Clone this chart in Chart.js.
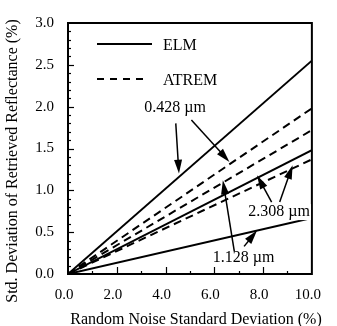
<!DOCTYPE html>
<html><head><meta charset="utf-8">
<script src="https://cdn.jsdelivr.net/npm/chart.js@4"></script>
<style>html,body{margin:0;padding:0;background:#fff;}#wrap{width:337px;height:326px;}</style>
</head><body><div id="wrap"><canvas id="c" width="337" height="326"></canvas></div>
<script>
// ---- data ----
const noiseLevels = [0, 10];               // random noise std. dev. (%)
const elm0428   = [0, 2.55];
const atrem0428 = [0, 1.98];
const atrem1128 = [0, 1.72];
const elm2308   = [0, 1.48];
const atrem2308 = [0, 1.37];
const elm1128   = [0, 0.67];
const xTicks = [0, 2, 4, 6, 8, 10];
const yTicks = [0, 0.5, 1.0, 1.5, 2.0, 2.5, 3.0];
const seriesNames = ["ELM", "ATREM"];
const wavelengthLabels = ["0.428 \u00b5m", "2.308 \u00b5m", "1.128 \u00b5m"];
const yTitle = "Std. Deviation of Retrieved Reflectance (%)";
const xTitle = "Random Noise Standard Deviation (%)";

// annotations (data coordinates)
const labelPos = [[4.39, 1.99], [8.66, 0.74], [7.2, 0.19]];
const arrows = [
  [[4.42, 1.80], [4.55, 1.20]],
  [[5.06, 1.84], [6.62, 1.34]],
  [[8.35, 0.86], [7.75, 1.18]],
  [[8.68, 0.86], [9.21, 1.30]],
  [[6.82, 0.27], [6.35, 1.12]],
  [[7.22, 0.33], [7.75, 0.52]]
];

const FONT = "'Liberation Serif', 'Times New Roman', serif";
const pts = arr => noiseLevels.map((x, i) => ({x: x, y: arr[i]}));
const solid = (d) => ({data: pts(d), borderColor: '#000', borderWidth: 2, pointRadius: 0, fill: false, tension: 0});
const dashed = (d) => ({data: pts(d), borderColor: '#000', borderWidth: 2, borderDash: [8, 5], pointRadius: 0, fill: false, tension: 0});

const decor = {
  id: 'decor',
  afterDatasetsDraw(chart) {
    const ctx = chart.ctx, a = chart.chartArea, xs = chart.scales.x, ys = chart.scales.y;
    ctx.save();
    // frame
    ctx.strokeStyle = '#000'; ctx.lineWidth = 2;
    ctx.strokeRect(a.left, a.top, a.right - a.left, a.bottom - a.top);
    // inward ticks
    ctx.lineWidth = 1.2;
    for (let i = 1; i < 30; i++) {
      const v = i / 10, y = Math.round(ys.getPixelForValue(v)) + 0.5;
      const len = (i % 5 === 0) ? 6 : 3;
      ctx.beginPath(); ctx.moveTo(a.left, y); ctx.lineTo(a.left + len, y); ctx.stroke();
    }
    for (let i = 1; i < 10; i++) {
      const x = Math.round(xs.getPixelForValue(i)) + 0.5;
      const len = (i % 2 === 0) ? 7 : 3;
      ctx.beginPath(); ctx.moveTo(x, a.bottom); ctx.lineTo(x, a.bottom - len); ctx.stroke();
    }
    // legend
    ctx.lineWidth = 2;
    ctx.beginPath(); ctx.moveTo(a.left + 29, a.top + 21); ctx.lineTo(a.left + 84, a.top + 21); ctx.stroke();
    ctx.setLineDash([7, 6]);
    ctx.beginPath(); ctx.moveTo(a.left + 29, a.top + 56); ctx.lineTo(a.left + 80, a.top + 56); ctx.stroke();
    ctx.setLineDash([]);
    ctx.fillStyle = '#000'; ctx.font = '16px ' + FONT; ctx.textBaseline = 'middle'; ctx.textAlign = 'left';
    ctx.fillText(seriesNames[0], a.left + 95, a.top + 23);
    ctx.fillText(seriesNames[1], a.left + 95, a.top + 58);
    // wavelength labels
    ctx.textAlign = 'center';
    wavelengthLabels.forEach((t, i) => {
      const p = labelPos[i];
      ctx.fillStyle = '#fff';
      const w = ctx.measureText(t).width;
      ctx.fillRect(xs.getPixelForValue(p[0]) - w / 2 - 1, ys.getPixelForValue(p[1]) - 8, w + 2, 16);
      ctx.fillStyle = '#000';
      ctx.fillText(t, xs.getPixelForValue(p[0]), ys.getPixelForValue(p[1]));
    });
    // arrows
    arrows.forEach(([s, e]) => {
      const x1 = xs.getPixelForValue(s[0]), y1 = ys.getPixelForValue(s[1]);
      const x2 = xs.getPixelForValue(e[0]), y2 = ys.getPixelForValue(e[1]);
      const ang = Math.atan2(y2 - y1, x2 - x1), L = 14, W = 4;
      ctx.lineWidth = 1.5;
      ctx.beginPath(); ctx.moveTo(x1, y1); ctx.lineTo(x2 - Math.cos(ang) * L * 0.8, y2 - Math.sin(ang) * L * 0.8); ctx.stroke();
      ctx.beginPath();
      ctx.moveTo(x2, y2);
      ctx.lineTo(x2 - Math.cos(ang) * L - Math.sin(ang) * W, y2 - Math.sin(ang) * L + Math.cos(ang) * W);
      ctx.lineTo(x2 - Math.cos(ang) * L + Math.sin(ang) * W, y2 - Math.sin(ang) * L - Math.cos(ang) * W);
      ctx.closePath(); ctx.fill();
    });
    // y axis title (centred like the reference, slightly below plot centre)
    ctx.save();
    ctx.translate(13, 161);
    ctx.rotate(-Math.PI / 2);
    ctx.font = '16px ' + FONT; ctx.textAlign = 'center'; ctx.textBaseline = 'middle';
    ctx.fillText(yTitle, 0, 0);
    ctx.restore();
    // x axis title
    ctx.font = '16px ' + FONT; ctx.textAlign = 'center'; ctx.textBaseline = 'middle';
    ctx.fillText(xTitle, 196, 320);
    ctx.restore();
  }
};

new Chart(document.getElementById('c'), {
  type: 'line',
  data: {
    datasets: [solid(elm0428), dashed(atrem0428), dashed(atrem1128), solid(elm2308), dashed(atrem2308), solid(elm1128)]
  },
  options: {
    responsive: false, animation: false, devicePixelRatio: 1,
    layout: {padding: {left: 0, right: 19, top: 22, bottom: 0}},
    plugins: {legend: {display: false}, tooltip: {enabled: false}},
    scales: {
      x: {
        type: 'linear', min: 0, max: 10,
        afterFit: s => { s.height = 52; },
        afterBuildTicks: s => { s.ticks = xTicks.map(v => ({value: v})); },
        grid: {display: false, drawTicks: false},
        border: {display: false},
        ticks: {color: '#000', font: {family: FONT, size: 15}, padding: 12, labelOffset: -4, maxRotation: 0, callback: v => v.toFixed(1)},
        title: {display: false}
      },
      y: {
        type: 'linear', min: 0, max: 3,
        afterFit: s => { s.width = 68; },
        afterBuildTicks: s => { s.ticks = yTicks.map(v => ({value: v})); },
        grid: {display: false, drawTicks: false},
        border: {display: false},
        ticks: {color: '#000', font: {family: FONT, size: 15}, padding: 14, callback: v => v.toFixed(1)},
        title: {display: false}
      }
    }
  },
  plugins: [decor]
});
</script></body></html>
